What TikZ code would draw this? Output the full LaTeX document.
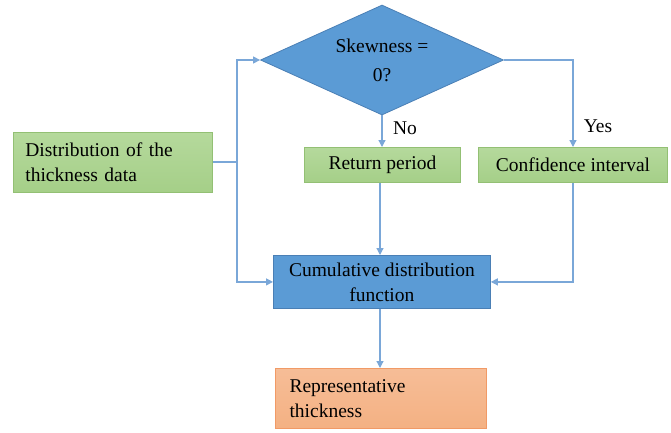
\documentclass[tikz,border=0pt]{standalone}
\usepackage{fontspec}
\setmainfont{Liberation Serif}
\usetikzlibrary{shapes.geometric,arrows.meta}
\definecolor{lineblue}{HTML}{7AA7D8}
\definecolor{gfill}{HTML}{A5CF88}
\definecolor{gfilltop}{HTML}{B5D99C}
\definecolor{gborder}{HTML}{93C074}
\definecolor{bfill}{HTML}{5B9BD5}
\definecolor{bborder}{HTML}{4A7FB5}
\definecolor{ofill}{HTML}{F4B183}
\definecolor{ofilltop}{HTML}{F6BD97}
\definecolor{oborder}{HTML}{F19A66}
\begin{document}
\begin{tikzpicture}[x=1pt,y=-1pt,
  txt/.style={font=\fontsize{19.5}{25}\selectfont},
  gbox/.style={txt,draw=gborder,line width=0.8pt,top color=gfilltop,bottom color=gfill,inner sep=0pt,anchor=north west},
  bbox/.style={txt,draw=bborder,line width=0.8pt,fill=bfill,inner sep=0pt,anchor=north west},
  obox/.style={txt,draw=oborder,line width=0.8pt,top color=ofilltop,bottom color=ofill,inner sep=0pt,anchor=north west},
  conn/.style={draw=lineblue,line width=1.2pt,-{Triangle[width=7pt,length=7pt]}},
  plain/.style={draw=lineblue,line width=1.2pt}]
\useasboundingbox (0,0) rectangle (671,432);
% diamond
\node[diamond,draw=bborder,line width=0.8pt,fill=bfill,minimum width=243pt,minimum height=110pt,aspect=2.2,inner sep=0pt,txt,align=center] (sk) at (382,60) {Skewness =\\[4pt]0?};
% left box
\node[gbox,minimum width=199pt,minimum height=60pt,text width=175pt,align=left] (dist) at (13,132) {Distribution of the\\thickness data};
% return period
\node[gbox,minimum width=156pt,minimum height=35pt] (rp) at (304,147) {};
\node[txt] at (rp.center) {Return period};
% confidence interval
\node[gbox,minimum width=189pt,minimum height=35pt] (ci) at (478,147) {};
\node[txt] at (ci.center) {Confidence interval};
% CDF
\node[bbox,minimum width=217pt,minimum height=53pt] (cdf) at (273,255) {};
\node[txt,align=center] at (cdf.center) {Cumulative distribution\\function};
% representative
\node[obox,minimum width=211pt,minimum height=60pt] (rep) at (275,368) {};
\node[txt,align=left,anchor=west] at ([xshift=11pt]rep.west) {Representative\\thickness};
% connectors
\coordinate (j) at (237,162);
\draw[plain] (dist.east |- j) -- (j);
\draw[conn] (j) |- (sk.west);
\draw[conn] (j) |- (cdf.west);
\draw[conn] (sk.south) -- (rp.north -| sk.south);
\draw[conn] (sk.east) -| (ci.north -| 573,0);
\draw[conn] (rp.south -| 380,0) -- (cdf.north -| 380,0);
\draw[conn] (ci.south -| 573,0) |- (cdf.east);
\draw[conn] (cdf.south -| 380,0) -- (rep.north -| 380,0);
% labels
\node[txt] at (405,128) {No};
\node[txt] at (598,126) {Yes};
\end{tikzpicture}
\end{document}
